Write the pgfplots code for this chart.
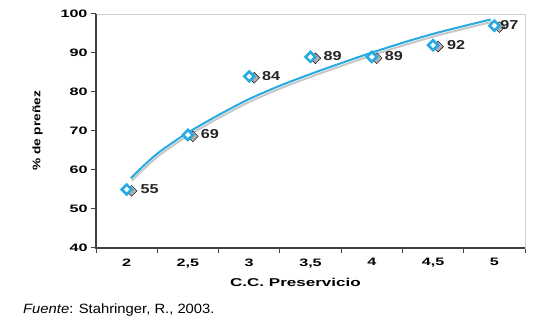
\documentclass[border=0pt]{standalone}
\usepackage{pgfplots}
\pgfplotsset{compat=1.18}
\usepackage{fontspec}
\setmainfont{Liberation Sans}
\newfontfamily\widefont{Liberation Sans}[FakeStretch=1.5]
\newfontfamily\midfont{Liberation Sans}[FakeStretch=1.25]
\newfontfamily\capfont{Liberation Sans}[FakeStretch=1.1]
\definecolor{cy}{RGB}{38,170,225}
\definecolor{shad}{RGB}{175,175,175}
\begin{document}
\begin{tikzpicture}
\begin{axis}[
  name=ax,
  scale only axis,
  width=429bp, height=234bp,
  xmin=0.5, xmax=7.5, ymin=40, ymax=100,
  xtick={0.5,1.5,...,7.5},
  x tick label as interval,
  xticklabels={2,{2,5},3,{3,5},4,{4,5},5},
  ytick={40,50,...,100},
  yticklabels={40,50,60,70,80,90,100},
  xtick pos=bottom, ytick pos=left,
  tick align=outside,
  major tick length=5bp,
  tick style={black!75, line width=1bp},
  axis line style={draw=gray!35, line width=0.8bp},
  xticklabel style={font=\widefont\bfseries\fontsize{10.8}{12}\selectfont, yshift=-2bp},
  yticklabel style={font=\widefont\bfseries\fontsize{10.8}{12}\selectfont},
  xlabel={C.C. Preservicio},
  ylabel={\% de preñez},
  xlabel style={font=\widefont\bfseries\fontsize{11.4}{13}\selectfont, xshift=-15bp, yshift=-4bp},
  ylabel style={font=\midfont\bfseries\fontsize{11}{13}\selectfont, yshift=11bp},
  clip=false,
]
% shadow of fitted curve
\addplot[shad!70, line width=2bp, smooth, no markers, shift={(1bp,-2.5bp)}] coordinates {
 (1.07,57.9) (1.25,60.7) (1.5,64.2) (1.75,67.0) (2,69.6) (2.5,74.1) (3,78.2) (3.5,81.6)
 (4,84.6) (4.5,87.4) (5,90.1) (5.5,92.6) (6,94.9) (6.5,96.9) (6.94,98.6)};
% fitted curve
\addplot[cy, line width=2bp, smooth, no markers] coordinates {
 (1.07,57.9) (1.25,60.7) (1.5,64.2) (1.75,67.0) (2,69.6) (2.5,74.1) (3,78.2) (3.5,81.6)
 (4,84.6) (4.5,87.4) (5,90.1) (5.5,92.6) (6,94.9) (6.5,96.9) (6.94,98.6)};
% marker shadows
\addplot[only marks, mark=square*, mark size=3.8bp,
  mark options={draw=none, fill=shad, rotate=45, xshift=2.5bp, yshift=-4.5bp}] coordinates {
 (1,55) (2,69) (3,84) (4,89) (5,89) (6,92) (7,97)};
% markers with labels
\addplot[only marks, mark=square*, mark size=3.5bp,
  mark options={draw=cy, fill=white, line width=2.6bp, rotate=45},
  point meta=explicit symbolic,
  nodes near coords={\makebox[0pt][l]{\pgfplotspointmeta}},
  every node near coord/.append style={font=\midfont\bfseries\fontsize{13}{15}\selectfont, text=black!85, yshift=-5.5bp, inner sep=0pt}]
 coordinates {
 (1,55) [\hspace*{14bp}55] (2,69) [\hspace*{13bp}69] (3,84) [\hspace*{13bp}84]
 (4,89) [\hspace*{13bp}89] (5,89) [\hspace*{13bp}89] (6,92) [\hspace*{14bp}92]
 (7,97) [\hspace*{6bp}97]};
\draw[black!75, line width=1.6bp] (rel axis cs:0,1) -- (rel axis cs:0,0) -- (rel axis cs:1,0);
\end{axis}
\node[anchor=base west, inner sep=0pt, font=\capfont\fontsize{13.5}{15}\selectfont]
  at ([xshift=-73bp,yshift=-66bp]ax.south west) {\textit{Fuente}: Stahringer, R., 2003.};
\path ([xshift=-96bp,yshift=-79bp]ax.south west) rectangle ([xshift=30bp,yshift=14bp]ax.north east);
\end{tikzpicture}
\end{document}
